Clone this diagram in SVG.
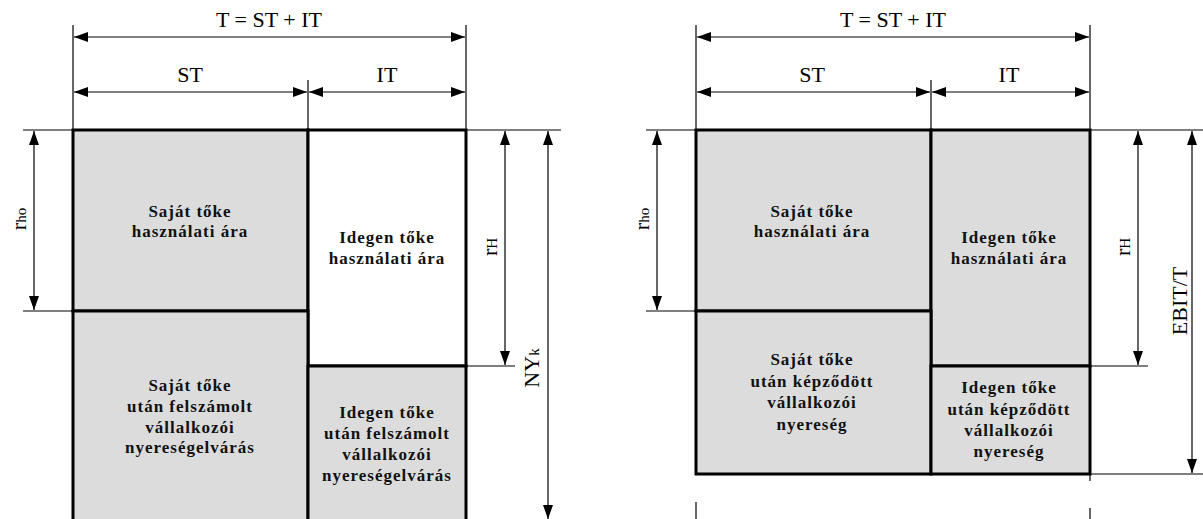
<svg xmlns="http://www.w3.org/2000/svg" width="1203" height="519" viewBox="0 0 1203 519">
<style>
.box{stroke:#000;stroke-width:3;}
.g{fill:#dcdcdc;}
.w{fill:#fff;}
.thin{stroke:#000;stroke-width:1.2;fill:none;}
.dim{stroke:#000;stroke-width:1.2;fill:none;marker-start:url(#ah);marker-end:url(#ah);}
.dim1{stroke:#000;stroke-width:1.2;fill:none;marker-end:url(#ah);}
.lbl{font-family:"Liberation Serif",serif;font-size:22px;fill:#000;text-anchor:middle;}
.t{font-family:"Liberation Serif",serif;font-size:17px;font-weight:bold;letter-spacing:1px;fill:#111;text-anchor:middle;}
</style>
<defs>
<marker id="ah" viewBox="0 0 14 10" refX="14" refY="5" markerWidth="14" markerHeight="10" markerUnits="userSpaceOnUse" orient="auto-start-reverse">
<path d="M0,0 L14,5 L0,10 Z" fill="#000"/>
</marker>
</defs>

<g id="connectors">
<!-- left diagram -->
<line class="thin" x1="73" y1="25" x2="73" y2="130"/>
<line class="thin" x1="466" y1="25" x2="466" y2="130"/>
<line class="thin" x1="308" y1="80" x2="308" y2="130"/>
<line class="dim" x1="74" y1="37" x2="465" y2="37"/>
<line class="dim" x1="74" y1="92" x2="307" y2="92"/>
<line class="dim" x1="309" y1="92" x2="465" y2="92"/>
<line class="thin" x1="23" y1="130" x2="561" y2="130"/>
<line class="thin" x1="23" y1="311" x2="73" y2="311"/>
<line class="thin" x1="466" y1="366" x2="515" y2="366"/>
<line class="dim" x1="34" y1="131" x2="34" y2="310"/>
<line class="dim" x1="505" y1="131" x2="505" y2="365"/>
<line class="dim" x1="548" y1="131" x2="548" y2="519"/>
<!-- right diagram -->
<line class="thin" x1="696" y1="25" x2="696" y2="130"/>
<line class="thin" x1="1090" y1="25" x2="1090" y2="130"/>
<line class="thin" x1="931" y1="80" x2="931" y2="130"/>
<line class="dim" x1="697" y1="37" x2="1089" y2="37"/>
<line class="dim" x1="697" y1="92" x2="930" y2="92"/>
<line class="dim" x1="932" y1="92" x2="1089" y2="92"/>
<line class="thin" x1="646" y1="130" x2="1203" y2="130"/>
<line class="thin" x1="646" y1="311" x2="696" y2="311"/>
<line class="thin" x1="1090" y1="366" x2="1148" y2="366"/>
<line class="thin" x1="1090" y1="474" x2="1203" y2="474"/>
<line class="dim" x1="657" y1="131" x2="657" y2="310"/>
<line class="dim" x1="1138" y1="131" x2="1138" y2="365"/>
<line class="dim" x1="1192" y1="131" x2="1192" y2="473"/>
<line class="thin" x1="1090" y1="474" x2="1090" y2="481"/>
<line class="thin" x1="696" y1="502" x2="696" y2="519"/>
<line class="thin" x1="1090" y1="508" x2="1090" y2="519"/>
</g>

<g id="dimension-labels">
<text class="lbl" x="269" y="27">T = ST + IT</text>
<text class="lbl" x="190" y="82">ST</text>
<text class="lbl" x="387" y="82">IT</text>
<text class="lbl" x="893" y="27">T = ST + IT</text>
<text class="lbl" x="812" y="82">ST</text>
<text class="lbl" x="1009" y="82">IT</text>
<text class="lbl" transform="translate(26 219) rotate(-90)" x="0" y="0"><tspan>r</tspan><tspan font-size="15">ho</tspan></text>
<text class="lbl" transform="translate(649 219) rotate(-90)" x="0" y="0"><tspan>r</tspan><tspan font-size="15">ho</tspan></text>
<text class="lbl" transform="translate(497 247) rotate(-90)" x="0" y="0"><tspan>r</tspan><tspan font-size="15">H</tspan></text>
<text class="lbl" transform="translate(1130 247) rotate(-90)" x="0" y="0"><tspan>r</tspan><tspan font-size="15">H</tspan></text>
<text class="lbl" transform="translate(539 368) rotate(-90)" x="0" y="0"><tspan>NY</tspan><tspan font-size="15">k</tspan></text>
<text class="lbl" transform="translate(1187 301) rotate(-90)" x="0" y="0">EBIT/T</text>
</g>

<g id="left-sajat-hasznalati">
<rect class="box g" x="73" y="130" width="235" height="181"/>
<text class="t" x="190" y="217">Saját tőke</text>
<text class="t" x="190" y="237">használati ára</text>
</g>
<g id="left-idegen-hasznalati">
<rect class="box w" x="308" y="130" width="158" height="236"/>
<text class="t" x="387" y="243">Idegen tőke</text>
<text class="t" x="387" y="264">használati ára</text>
</g>
<g id="left-sajat-nyereseg">
<rect class="box g" x="73" y="311" width="235" height="230"/>
<text class="t" x="190" y="391">Saját tőke</text>
<text class="t" x="190" y="412">után felszámolt</text>
<text class="t" x="190" y="433">vállalkozói</text>
<text class="t" x="190" y="453">nyereségelvárás</text>
</g>
<g id="left-idegen-nyereseg">
<rect class="box g" x="308" y="366" width="158" height="175"/>
<text class="t" x="387" y="418">Idegen tőke</text>
<text class="t" x="387" y="439">után felszámolt</text>
<text class="t" x="387" y="460">vállalkozói</text>
<text class="t" x="387" y="481">nyereségelvárás</text>
</g>

<g id="right-sajat-hasznalati">
<rect class="box g" x="696" y="130" width="235" height="181"/>
<text class="t" x="812" y="217">Saját tőke</text>
<text class="t" x="812" y="237">használati ára</text>
</g>
<g id="right-idegen-hasznalati">
<rect class="box g" x="931" y="130" width="159" height="236"/>
<text class="t" x="1009" y="243">Idegen tőke</text>
<text class="t" x="1009" y="264">használati ára</text>
</g>
<g id="right-sajat-nyereseg">
<rect class="box g" x="696" y="311" width="235" height="163"/>
<text class="t" x="812" y="365">Saját tőke</text>
<text class="t" x="812" y="387">után képződött</text>
<text class="t" x="812" y="408">vállalkozói</text>
<text class="t" x="812" y="430">nyereség</text>
</g>
<g id="right-idegen-nyereseg">
<rect class="box g" x="931" y="366" width="159" height="108"/>
<text class="t" x="1009" y="393">Idegen tőke</text>
<text class="t" x="1009" y="415">után képződött</text>
<text class="t" x="1009" y="436">vállalkozói</text>
<text class="t" x="1009" y="457">nyereség</text>
</g>
</svg>
